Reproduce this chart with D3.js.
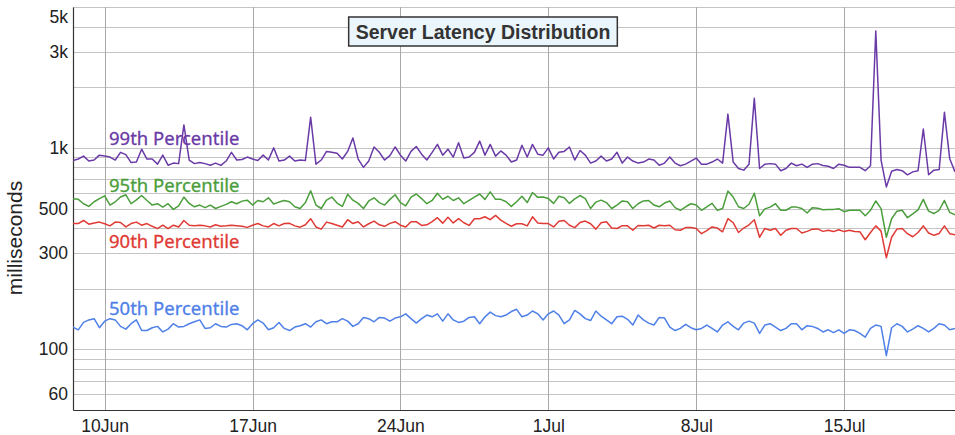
<!DOCTYPE html>
<html><head><meta charset="utf-8">
<script src="https://cdn.jsdelivr.net/npm/d3@7"></script>
<style>
html,body{margin:0;padding:0;background:#fff;}
svg{display:block;}
</style></head>
<body>
<svg id="chart" width="955" height="435"></svg>
<script>
// ---- data (6-hourly samples starting 8 Jun 12:00) ----
const startTime = new Date(2018, 5, 8, 12);
const endTime = new Date(2018, 6, 20, 6);
const stepHours = 6;

const p50 = [129,125,136,140,142,128,138,142,140,130,126,134,140,124,124,128,130,122,126,134,129,130,134,137,140,127,128,134,130,
129,133,134,131,125,134,140,135,125,128,136,127,124,129,131,134,129,137,140,134,137,137,142,138,130,134,144,142,
137,144,143,138,143,145,150,142,135,142,148,145,150,138,150,140,136,138,144,145,134,145,153,147,145,148,154,158,
145,148,155,150,140,150,155,148,134,140,156,150,142,139,155,146,140,134,145,146,141,132,148,140,135,132,144,
143,129,124,127,133,128,125,127,132,127,122,132,137,130,125,135,138,135,120,132,134,129,124,127,134,134,125,131,
130,127,122,125,121,125,120,125,124,120,115,127,132,130,93,128,134,130,122,126,131,127,122,127,134,132,125,127];

const p90 = [421,421,436,418,424,428,420,410,428,426,405,421,428,413,421,408,397,413,397,413,405,436,413,410,413,410,405,415,408,
410,413,411,408,403,413,421,410,405,421,410,421,422,410,404,415,445,405,395,428,421,413,405,440,421,430,405,420,
433,415,408,422,430,413,405,430,430,412,415,430,450,423,452,424,445,425,412,445,445,455,440,462,438,422,408,420,
420,410,455,424,421,421,405,432,436,413,402,426,433,420,395,425,430,400,398,411,410,390,412,410,413,400,413,
410,413,392,390,402,402,398,375,388,405,400,383,445,425,380,400,415,440,360,398,390,398,368,390,398,398,378,385,
395,396,385,390,384,392,384,390,384,383,350,380,410,386,285,360,395,398,375,362,380,410,378,368,376,410,375,370];

const p95 = [559,555,528,512,540,560,578,520,540,570,585,528,552,580,548,520,528,508,528,495,515,570,530,510,520,505,520,500,512,
524,540,528,544,550,520,548,540,565,526,538,548,540,510,500,535,612,520,500,550,570,532,512,588,550,530,500,545,
565,535,520,555,585,535,515,570,590,560,528,548,595,555,575,548,565,528,548,570,590,555,605,555,555,540,512,540,
575,535,600,568,570,560,530,575,565,530,558,580,560,500,538,550,535,500,520,545,540,500,528,545,548,520,510,
532,545,505,490,510,528,520,490,510,530,490,500,610,570,510,500,525,595,460,498,508,528,490,490,508,508,500,475,
505,502,493,495,495,499,482,490,490,490,460,490,545,499,360,445,485,490,450,470,492,555,485,472,490,548,478,465];

const p99 = [865,880,910,860,870,920,910,900,870,950,925,845,850,985,880,880,830,920,820,840,835,1300,870,835,845,835,820,840,818,
860,950,870,875,900,880,865,920,870,1000,860,870,910,860,870,865,1420,830,870,960,950,940,880,960,1120,880,800,860,
1010,950,870,915,1010,920,860,960,1015,930,870,950,1040,920,985,900,1060,890,900,950,1080,920,1040,910,965,920,850,870,
1030,900,1040,930,920,1000,880,950,960,1010,870,970,920,840,860,910,860,880,950,840,900,860,840,850,880,870,820,
840,900,840,815,830,860,890,830,830,850,880,840,1470,850,790,775,830,1760,790,830,835,830,770,790,840,815,830,800,
830,835,818,810,790,830,820,800,800,800,770,815,3800,870,640,765,780,770,735,760,770,1240,735,775,780,1500,882,760];

const seriesNames = ["99th Percentile","95th Percentile","90th Percentile","50th Percentile"];
const seriesColors = ["#6a3aa6","#4b9e3c","#e03a35","#4f80e8"];

const yTickValues = [60,100,300,500,1000,3000,5000];
const yTickLabels = ["60","100","300","500","1k","3k","5k"];
const xTickDates = [new Date(2018,5,10),new Date(2018,5,17),new Date(2018,5,24),new Date(2018,6,1),new Date(2018,6,8),new Date(2018,6,15)];
const title = "Server Latency Distribution";
const yTitle = "milliseconds";

// ---- layout ----
const svg = d3.select("#chart");
const L = 73, R = 955, T = 7, B = 410;

const x = d3.scaleTime().domain([startTime, endTime]).range([L, R]);
const y = d3.scaleLog().domain([50, 5000]).range([B, T]);

const times = p50.map((_, i) => d3.timeHour.offset(startTime, i * stepHours));

// horizontal grid (1..9 x 10^k)
const gridVals = [];
[10,100,1000].forEach(p => { for (let m = 1; m <= 9; m++) { const v = m*p; if (v > 50 && v <= 5000) gridVals.push(v); } });
svg.append("g").selectAll("line").data(gridVals).join("line")
  .attr("x1", L).attr("x2", R)
  .attr("y1", d => Math.round(y(d)) + 0.5).attr("y2", d => Math.round(y(d)) + 0.5)
  .attr("stroke", "#c4c4c4").attr("stroke-width", 1);

// vertical grid
svg.append("g").selectAll("line").data(xTickDates).join("line")
  .attr("x1", d => Math.round(x(d)) + 0.5).attr("x2", d => Math.round(x(d)) + 0.5)
  .attr("y1", T).attr("y2", B)
  .attr("stroke", "#a8a8a8").attr("stroke-width", 1);

// axes
const xAxis = d3.axisBottom(x).tickValues(xTickDates).tickFormat(d3.timeFormat("%-d%b")).tickSize(0).tickPadding(10);
const gx = svg.append("g").attr("transform", `translate(0,${B})`).call(xAxis);
gx.select(".domain").attr("stroke", "#333").attr("stroke-width", 1.2);
gx.selectAll("text").attr("font-family", "Liberation Sans, Arial, sans-serif").attr("font-size", 17.5).attr("fill", "#222");

const yAxis = d3.axisLeft(y).tickValues(yTickValues).tickFormat((d, i) => yTickLabels[i]).tickSize(0).tickPadding(5);
const gy = svg.append("g").attr("transform", `translate(${L},0)`).call(yAxis);
gy.select(".domain").attr("stroke", "#333").attr("stroke-width", 1.2);
gy.selectAll("text").attr("font-family", "Liberation Sans, Arial, sans-serif").attr("font-size", 17.5).attr("fill", "#222");
gy.selectAll(".tick").filter(d => d === 5000).attr("transform", d => `translate(0,${Math.max(y(d), 17)})`);

svg.append("text")
  .attr("transform", `translate(22,238) rotate(-90)`)
  .attr("text-anchor", "middle")
  .attr("font-family", "Liberation Sans, Arial, sans-serif").attr("font-size", 21).attr("fill", "#222")
  .text(yTitle);

// lines
svg.append("clipPath").attr("id", "clip").append("rect")
  .attr("x", L).attr("y", T).attr("width", R - L).attr("height", B - T);
const line = d3.line().x((d, i) => x(times[i])).y(d => y(d));
const allSeries = [p99, p95, p90, p50];
svg.append("g").attr("clip-path", "url(#clip)").selectAll("path").data(allSeries).join("path")
  .attr("d", d => line(d))
  .attr("fill", "none")
  .attr("stroke", (d, i) => seriesColors[i])
  .attr("stroke-width", 1.5)
  .attr("stroke-linejoin", "round");

// series labels
const labelBaselines = [145, 192, 248, 315];
svg.append("g").selectAll("text").data(seriesNames).join("text")
  .attr("x", 109)
  .attr("y", (d, i) => labelBaselines[i])
  .attr("font-family", "Noto Sans, Roboto, sans-serif")
  .attr("font-size", 18.5)
  .attr("fill", (d, i) => seriesColors[i])
  .attr("stroke", (d, i) => seriesColors[i])
  .attr("stroke-width", 0.3)
  .text(d => d);

// title box
const tg = svg.append("g");
const tt = tg.append("text")
  .attr("x", 483).attr("y", 38.5)
  .attr("text-anchor", "middle")
  .attr("font-family", "Liberation Sans, Arial, sans-serif")
  .attr("font-weight", "bold").attr("font-size", 19.5)
  .attr("fill", "#333")
  .text(title);
const bb = tt.node().getBBox();
tg.insert("rect", "text")
  .attr("x", bb.x - 7).attr("y", 17)
  .attr("width", bb.width + 14).attr("height", 29)
  .attr("fill", "#eaf5fc").attr("stroke", "#333").attr("stroke-width", 1.5);
</script>
</body></html>
